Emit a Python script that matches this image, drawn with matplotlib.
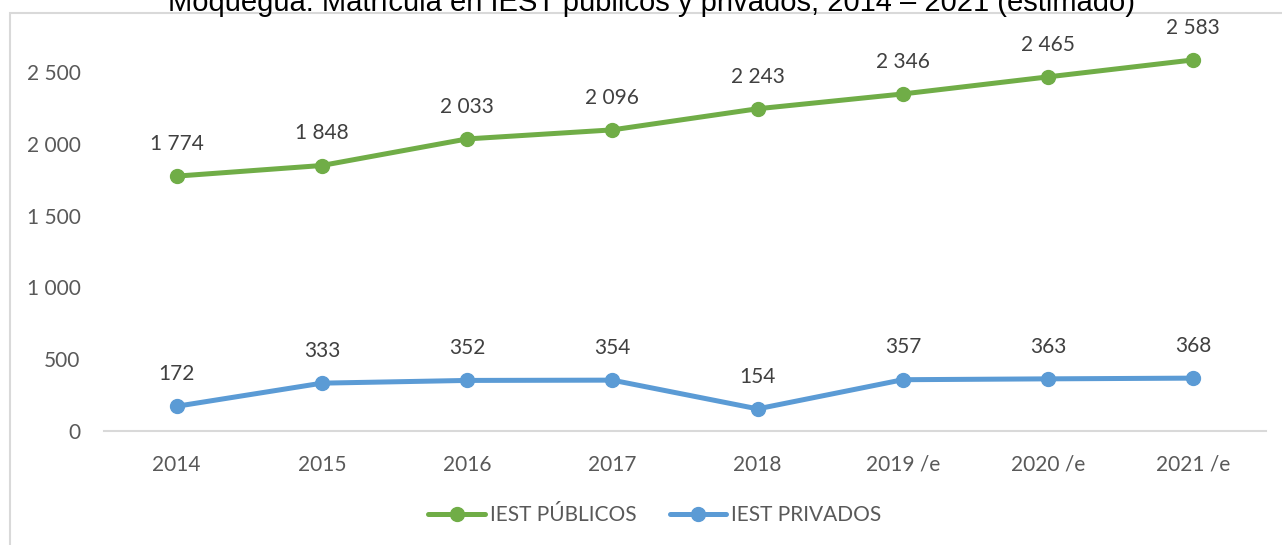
import matplotlib.pyplot as plt
from matplotlib.patches import Rectangle
import numpy as np

# data
years = ['2014', '2015', '2016', '2017', '2018', '2019 /e', '2020 /e', '2021 /e']
publicos = [1774, 1848, 2033, 2096, 2243, 2346, 2465, 2583]
privados = [172, 333, 352, 354, 154, 357, 363, 368]

green = '#70AD47'
blue = '#5B9BD5'
label_font = 'Lato'

def fmt(v):
    # thousands separated by a space
    return f'{v:,.0f}'.replace(',', ' ')

fig = plt.figure(figsize=(12.82, 5.45), dpi=100)
W, H = 1282, 545
ax = fig.add_axes([104 / W, 1 - 431 / H, (1266 - 104) / W, 431 / H])

x = np.arange(len(years))
ax.plot(x, publicos, color=green, lw=3.6, marker='o', ms=10, label='IEST PÚBLICOS',
        solid_capstyle='round', zorder=3)
ax.plot(x, privados, color=blue, lw=3.6, marker='o', ms=10, label='IEST PRIVADOS',
        solid_capstyle='round', zorder=3)

for series in (publicos, privados):
    for xi, v in zip(x, series):
        ax.annotate(fmt(v), (xi, v), xytext=(0, 16), textcoords='offset points',
                    ha='center', va='bottom', fontsize=15, color='#404040',
                    family=label_font)

ax.set_xlim(-0.5, len(years) - 0.5)
ax.set_ylim(0, 3000)
ax.set_yticks([0, 500, 1000, 1500, 2000, 2500])
ax.set_yticklabels([fmt(v) for v in [0, 500, 1000, 1500, 2000, 2500]])
ax.set_xticks(x)
ax.set_xticklabels(years)
ax.tick_params(axis='both', length=0, labelsize=15, labelcolor='#595959')
ax.tick_params(axis='y', pad=17)
ax.tick_params(axis='x', pad=17)
for lab in ax.get_xticklabels() + ax.get_yticklabels():
    lab.set_family(label_font)
for s in ['top', 'right', 'left']:
    ax.spines[s].set_visible(False)
ax.spines['bottom'].set_color('#D9D9D9')
ax.spines['bottom'].set_linewidth(1.5)
ax.patch.set_alpha(0)

# chart frame, partly outside the picture
fig.patches.append(Rectangle((10 / W, -0.1), 1.2, 1 - 13 / H + 0.1, transform=fig.transFigure,
                             fill=False, edgecolor='#D9D9D9', lw=1.5, zorder=0))

fig.text(651 / W, 1 - 11 / H, 'Moquegua: Matrícula en IEST públicos y privados, 2014 – 2021 (estimado)',
         ha='center', va='baseline', fontsize=21, color='black',
         family=['Liberation Sans', 'DejaVu Sans'])

leg = fig.legend(loc='center', bbox_to_anchor=(655 / W, 1 - 515 / H), ncol=2, frameon=False,
                 handlelength=2.7, handletextpad=0.25, columnspacing=1.6,
                 prop={'family': label_font, 'size': 15})
for t in leg.get_texts():
    t.set_color('#595959')

fig.savefig('out.png', dpi=100)
